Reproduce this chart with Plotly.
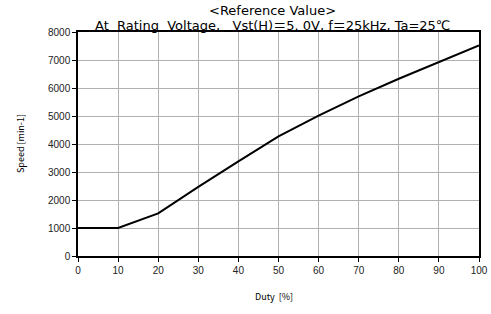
import plotly.graph_objects as go

duty = [0, 10, 20, 30, 40, 50, 60, 70, 80, 90, 100]
speed = [1000, 1000, 1520, 2470, 3380, 4270, 5010, 5700, 6330, 6920, 7520]

x_ticks = list(range(0, 101, 10))
y_ticks = list(range(0, 8001, 1000))

fig = go.Figure()
fig.add_trace(go.Scatter(x=duty, y=speed, mode="lines",
                         line=dict(color="black", width=2)))

font_jp = "Noto Sans CJK JP"
title_font = "DejaVu Sans, Noto Sans CJK JP"
tick_font = dict(size=10, family="Liberation Sans", color="#222222")
fig.update_layout(
    width=491, height=314,
    margin=dict(l=78, r=12, t=32, b=58),
    paper_bgcolor="white", plot_bgcolor="white",
    showlegend=False,
    font=dict(family=font_jp, color="black", size=9),
)
fig.add_annotation(text="&lt;Reference Value&gt;", xref="paper", yref="paper",
                   x=0.485, y=1.0, yshift=22, yanchor="middle", showarrow=False,
                   font=dict(size=13, family=title_font))
fig.add_annotation(text="At  Rating  Voltage,   Vst(H)＝5. 0V, f＝25kHz, Ta=25℃",
                   xref="paper", yref="paper", x=0.485, y=1.0, yshift=7,
                   yanchor="middle", showarrow=False,
                   font=dict(size=13, family=title_font))
fig.add_annotation(text="Duty  [%]", xref="paper", yref="paper", x=0.49, y=0,
                   yshift=-40, yanchor="middle", showarrow=False,
                   font=dict(size=9, family=font_jp))
fig.add_annotation(text="Speed [min-1]", xref="paper", yref="paper", x=0, y=0.5,
                   xshift=-58, xanchor="center", textangle=-90, showarrow=False,
                   font=dict(size=9, family=font_jp))

fig.update_xaxes(range=[0, 100], tickvals=x_ticks, showgrid=True,
                 gridcolor="#b0b0b0", gridwidth=1, showline=True,
                 linecolor="black", linewidth=1.5, mirror=True,
                 ticks="outside", ticklen=4, tickcolor="black", zeroline=False,
                 tickfont=tick_font, automargin=False)
fig.update_yaxes(range=[0, 8000], tickvals=y_ticks, showgrid=True,
                 gridcolor="#b0b0b0", gridwidth=1, showline=True,
                 linecolor="black", linewidth=1.5, mirror=True,
                 ticks="outside", ticklen=4, tickcolor="black", zeroline=False,
                 tickfont=tick_font, automargin=False)

fig.write_html("out.html", config={"displayModeBar": False},
               post_script="document.body.style.margin='0px';")
